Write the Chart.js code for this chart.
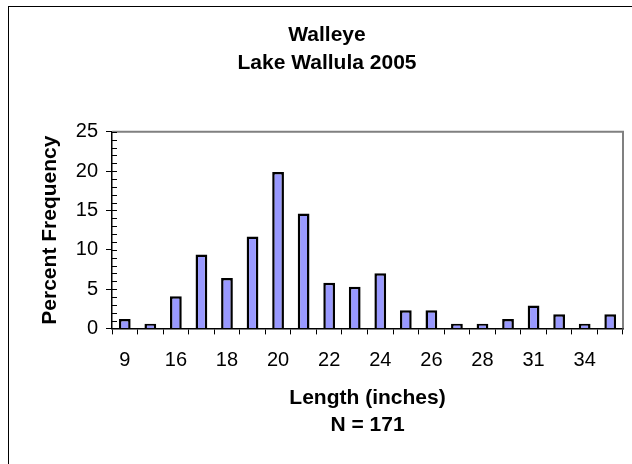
<!DOCTYPE html>
<html>
<head>
<meta charset="utf-8">
<script src="https://cdn.jsdelivr.net/npm/chart.js@4.4.0/dist/chart.umd.min.js"></script>
<style>
  html, body { margin: 0; padding: 0; background: #fff; overflow: hidden; }
  #wrap { position: relative; width: 632px; height: 464px; }
  #frame { position: absolute; left: 8px; top: 6px; width: 700px; height: 600px; border: 1.5px solid #000; }
  canvas { position: absolute; left: 0; top: 0; }
</style>
</head>
<body>
<div id="wrap">
  <div id="frame"></div>
  <canvas id="walleyeChart" width="632" height="464"></canvas>
</div>
<script>
// Walleye length frequency, Lake Wallula 2005
const lengthClasses = ['9', '14', '16', '17', '18', '19', '20', '21', '22', '23',
                       '24', '25', '26', '27', '28', '29', '31', '32', '34', '35'];
const percentFreq = [1.2, 0.6, 4.1, 9.4, 6.4, 11.7, 19.9, 14.6, 5.8, 5.3,
                     7.0, 2.3, 2.3, 0.6, 0.6, 1.2, 2.9, 1.8, 0.6, 1.8];
const yTicks = [0, 5, 10, 15, 20, 25];

const FONT = '"Liberation Sans", Arial, sans-serif';

// gray top/right plot border + small inside ticks on the y axis
const plotFrame = {
    id: 'plotFrame',
    afterDraw(chart) {
        const ctx = chart.ctx;
        const a = chart.chartArea;
        const y = chart.scales.y;
        ctx.save();
        ctx.strokeStyle = '#808080';
        ctx.lineWidth = 2;
        ctx.beginPath();
        ctx.moveTo(a.left, a.top);
        ctx.lineTo(a.right, a.top);
        ctx.lineTo(a.right, a.bottom);
        ctx.stroke();
        ctx.strokeStyle = '#000';
        ctx.lineWidth = 1;
        for (let v = y.min; v <= y.max; v++) {
            const py = Math.round(y.getPixelForValue(v)) + 0.5;
            ctx.beginPath();
            ctx.moveTo(a.left, py);
            ctx.lineTo(a.left + 5, py);
            ctx.stroke();
        }
        ctx.restore();
    }
};

new Chart(document.getElementById('walleyeChart'), {
    type: 'bar',
    data: {
        labels: lengthClasses,
        datasets: [{
            data: percentFreq,
            backgroundColor: '#9999FF',
            borderColor: '#000',
            borderWidth: 2.5,
            barPercentage: 0.46,
            categoryPercentage: 1
        }]
    },
    options: {
        responsive: false,
        animation: false,
        devicePixelRatio: 1,
        layout: { padding: { left: 31, right: 9, top: 0, bottom: 25 } },
        plugins: {
            legend: { display: false },
            tooltip: { enabled: false },
            title: {
                display: true,
                text: ['Walleye', 'Lake Wallula 2005'],
                color: '#000',
                font: { family: FONT, size: 21, weight: 'bold', lineHeight: 1.33 },
                padding: { top: 21, bottom: 55 }
            }
        },
        scales: {
            x: {
                afterFit: s => { s.height -= 13; },
                grid: { offset: true, drawOnChartArea: false, drawTicks: true, tickLength: 6, color: '#000' },
                border: { color: '#000', width: 1.5 },
                ticks: {
                    autoSkip: false,
                    maxRotation: 0,
                    color: '#000',
                    padding: 14,
                    font: { family: FONT, size: 20 },
                    callback: (val, i) => (i % 2 === 0 ? lengthClasses[i] : '')
                },
                title: {
                    display: true,
                    text: ['Length (inches)', 'N = 171'],
                    color: '#000',
                    font: { family: FONT, size: 21, weight: 'bold', lineHeight: 1.3 },
                    padding: { top: 11, bottom: 0 }
                }
            },
            y: {
                min: 0,
                max: 25,
                afterBuildTicks: s => { s.ticks = yTicks.map(v => ({ value: v })); },
                afterFit: s => { s.width = 81; },
                grid: { drawOnChartArea: false, drawTicks: true, tickLength: 6, color: '#000' },
                border: { color: '#000', width: 1.5 },
                ticks: {
                    color: '#000',
                    padding: 8,
                    font: { family: FONT, size: 20 }
                },
                title: {
                    display: true,
                    text: 'Percent Frequency',
                    color: '#000',
                    font: { family: FONT, size: 21, weight: 'bold' },
                    padding: { top: 7, bottom: 0 }
                }
            }
        }
    },
    plugins: [plotFrame]
});
</script>
</body>
</html>
